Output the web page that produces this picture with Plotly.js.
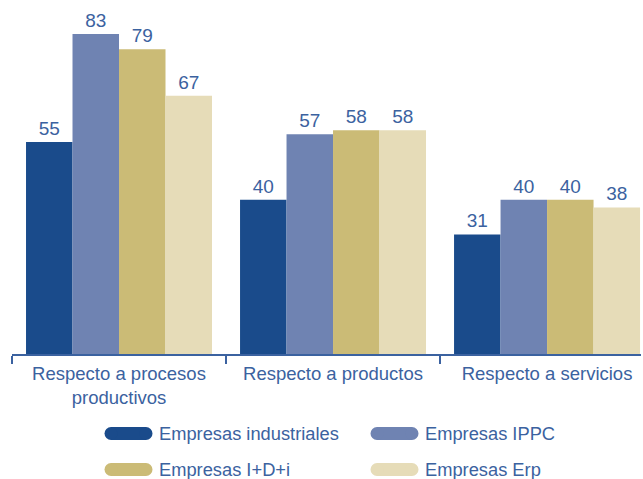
<!DOCTYPE html>
<html><head><meta charset="utf-8">
<script src="https://cdn.plot.ly/plotly-3.0.1.min.js"></script>
<style>html,body{margin:0;padding:0;background:#fff}#chart{width:643px;height:479px}</style>
</head><body><div id="chart"></div>
<script>
var categories = ['Respecto a procesos<br>productivos', 'Respecto a productos', 'Respecto a servicios'];
var seriesNames = ['Empresas industriales', 'Empresas IPPC', 'Empresas I+D+i', 'Empresas Erp'];
var industriales = [55, 40, 31];
var ippc = [83, 57, 40];
var idi = [79, 58, 40];
var erp = [67, 58, 38];
var colors = ['#1a4b8b', '#6f83b2', '#cbbb76', '#e6dcb8'];

var W = 643, H = 479, L = 12, R = 2, T = 0, B = 125;
var textColor = '#3b62a0';
var font = "'Liberation Sans', Arial, sans-serif";
var values = [industriales, ippc, idi, erp];

var traces = values.map(function (v, i) {
  return {
    type: 'bar', x: categories, y: v, name: seriesNames[i],
    marker: {color: colors[i], line: {width: 0}},
    text: v.map(String), textposition: 'outside', cliponaxis: false,
    textfont: {family: font, size: 19, color: textColor},
    showlegend: false, hoverinfo: 'skip'
  };
});

function px2x(px) { return (px - L) / (W - L - R); }
function px2y(py) { return (H - B - py) / (H - T - B); }

var legendPos = [[128.5, 433.5], [394.5, 433.5], [128.5, 469.5], [394.5, 469.5]];
var shapes = [], annotations = [];
legendPos.forEach(function (p, i) {
  var common = {xref: 'paper', yref: 'paper', xsizemode: 'pixel', ysizemode: 'pixel',
    xanchor: px2x(p[0]), yanchor: px2y(p[1]), fillcolor: colors[i], line: {width: 0}, layer: 'above'};
  shapes.push(Object.assign({type: 'rect', x0: -17.5, x1: 17.5, y0: -6.5, y1: 6.5}, common));
  shapes.push(Object.assign({type: 'circle', x0: -24, x1: -11, y0: -6.5, y1: 6.5}, common));
  shapes.push(Object.assign({type: 'circle', x0: 11, x1: 24, y0: -6.5, y1: 6.5}, common));
  annotations.push({xref: 'paper', yref: 'paper', x: px2x(p[0] + 28.5), y: px2y(p[1]),
    xanchor: 'left', yanchor: 'middle', showarrow: false, text: seriesNames[i],
    font: {family: font, size: 18.3, color: textColor}});
});

var layout = {
  width: W, height: H,
  margin: {l: L, r: R, t: T, b: B, pad: 0},
  paper_bgcolor: '#fff', plot_bgcolor: '#fff',
  barmode: 'group', bargap: 0.131, bargroupgap: 0,
  xaxis: {
    type: 'category', range: [-0.5, 2.439], tickson: 'boundaries',
    ticks: 'outside', ticklen: 8, tickwidth: 1.5, tickcolor: textColor,
    showline: true, linecolor: textColor, linewidth: 1.5,
    showgrid: false, zeroline: false, fixedrange: true,
    ticklabelstandoff: 2,
    tickfont: {family: font, size: 18.5, color: textColor}
  },
  yaxis: {range: [0, 91.8], visible: false, showgrid: false, zeroline: false, fixedrange: true},
  shapes: shapes, annotations: annotations
};
Plotly.newPlot('chart', traces, layout, {displayModeBar: false, staticPlot: true});
</script></body></html>
